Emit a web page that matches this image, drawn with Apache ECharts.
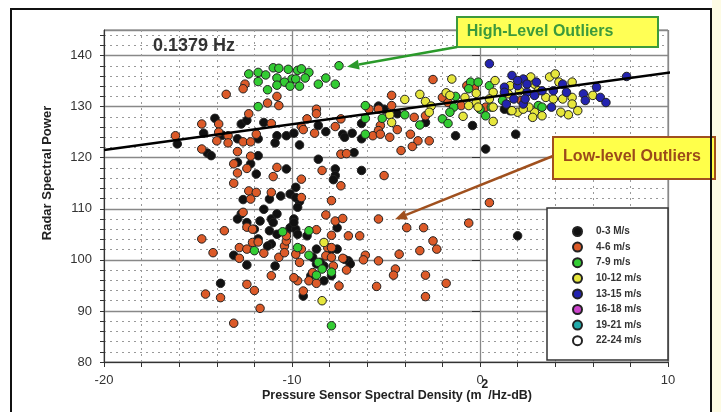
<!DOCTYPE html>
<html><head><meta charset="utf-8">
<script src="https://cdn.jsdelivr.net/npm/echarts@6.0.0/dist/echarts.min.js"></script>
<style>html,body{margin:0;padding:0;background:#fff}#c{width:721px;height:412px}</style>
</head><body><div id="c"></div>
<script>
const seriesNames = ['0-3 M/s','4-6 m/s','7-9 m/s','10-12 m/s','13-15 m/s','16-18 m/s','19-21 m/s','22-24 m/s'];
const seriesColors = ['#111111','#dc5a28','#33cc33','#e6e63c','#2323b0','#cc44cc','#22aaaa','#ffffff'];
const xLabelValues = [-20,-10,0,10];
const yLabelValues = [80,90,100,110,120,130,140];
const fitX = [-20, 11.3];
const fitY = [121.5, 137.3];

const ws0_3 = [[-14.1,127.7],[-12.7,126.6],[-12.4,127.3],[-11.5,126.9],[-14.7,124.8],[-16.1,122.7],[-13.7,124.4],[-12.9,123.7],[-11.8,123.7],[-10.8,124.3],[-10.3,124.3],[-10.9,122.9],[-14.5,120.9],[-14.3,120.4],[-11.8,120.4],[-12.9,119.1],[-11.9,116.8],[-12.2,118.8],[-10.3,117.8],[-12.6,111.8],[-11.2,111.9],[-10.6,112.5],[-10.1,112.9],
[-9.9,124.8],[-9.6,122.5],[-8.6,126.3],[-8.2,125.1],[-7.3,124.6],[-6.8,124.8],[-7.2,124.0],[-6.3,126.7],[-6.3,123.7],[-5.4,130.1],[-5.1,129.5],[-4.4,128.6],[-2.9,126.9],[-1.3,124.3],[-0.4,126.3],[-6.7,121.0],[-8.6,119.7],[-7.7,117.8],[-7.7,116.5],[-7.8,115.7],[-6.3,117.5],[-9.8,114.2],[-9.6,111.4],
[1.9,124.6],[0.3,121.7],[1.6,129.2],[1.3,129.5],[2.0,104.7],
[-11.5,109.9],[-12.7,109.0],[-12.9,108.0],[-12.4,107.3],[-11.7,107.6],[-11.1,108.0],[-10.8,109.0],[-11.0,107.3],[-11.2,105.7],[-10.8,105.0],[-10.3,105.4],[-11.8,104.1],[-11.1,103.1],[-11.3,102.7],[-13.1,100.9],[-12.4,99.0],[-10.9,98.8],[-13.8,95.4],[-10.1,106.3],[-12.0,106.0],
[-9.7,110.3],[-9.8,106.0],[-7.6,106.3],[-7.9,102.1],[-7.6,102.1],[-8.7,102.1],[-9.2,104.7],[-8.9,100.5],[-8.7,99.2],[-8.3,98.8],[-7.0,99.8],[-6.9,99.2],[-7.2,100.1],[-8.3,95.9],[-9.4,92.9],[-9.0,96.9],[-7.9,96.9],[-8.5,99.5],[-9.9,108.0],
[-9.8,112.2],[-9.9,107.3],[-9.7,105.0]];

const ws4_6 = [[-12.5,134.4],[-12.6,133.5],[-13.5,132.4],[-10.8,132.0],[-11.3,130.7],[-10.7,130.2],[-12.3,128.6],[-14.8,126.6],[-13.9,126.6],[-11.1,126.7],[-16.2,124.3],[-13.9,125.0],[-13.4,124.3],[-14.0,123.3],[-13.4,122.9],[-12.6,123.1],[-11.9,124.6],[-12.2,123.1],[-12.9,121.2],[-14.8,121.7],[-12.2,120.3],[-13.1,118.8],[-12.4,117.9],[-12.9,117.0],[-10.8,118.1],[-11.0,116.3],[-13.1,115.0],[-12.3,113.5],[-11.9,113.2],[-12.2,111.9],[-11.1,113.2],
[-8.7,129.5],[-8.7,128.6],[-9.2,127.6],[-9.5,126.1],[-9.4,125.5],[-8.8,124.8],[-7.7,126.1],[-7.4,127.6],[-4.7,132.2],[-2.5,135.3],[-2.0,131.8],[-1.7,130.8],[-1.0,130.2],[-0.7,134.1],[-0.3,133.6],[-5.4,129.5],[-4.7,130.2],[-5.3,126.3],[-5.4,125.3],[-5.7,124.3],[-5.3,124.6],[-4.8,124.0],[-4.4,125.5],[-3.7,124.6],[-3.3,123.3],[-2.7,123.3],[-3.6,122.2],[-4.2,121.4],[-7.4,120.7],[-7.1,120.8],[-8.4,117.5],[-9.5,115.8],[-7.4,114.5],[-7.9,111.6],[-5.1,116.5],[-9.5,112.2],[-2.9,128.2],[-3.5,127.9],[-5.9,129.5],
[-12.6,109.3],[-12.4,106.4],[-12.1,106.0],[-13.6,105.7],[-14.8,104.1],[-12.8,102.4],[-12.1,103.4],[-11.8,103.5],[-12.4,102.1],[-11.5,101.3],[-12.8,100.3],[-14.2,101.4],[-10.7,100.5],[-10.4,102.7],[-10.4,101.4],[-10.3,103.7],[-10.3,104.7],[-11.1,96.9],[-12.4,95.2],[-12.0,94.0],[-14.6,93.3],[-13.8,92.6],[-11.7,90.5],[-13.1,87.6],
[-8.2,108.8],[-7.7,107.6],[-7.3,108.1],[-8.7,105.9],[-7.0,104.7],[-6.4,104.7],[-7.9,104.8],[-9.5,102.1],[-9.8,101.1],[-8.1,102.4],[-7.9,102.4],[-8.2,100.8],[-7.3,100.3],[-7.9,100.5],[-7.8,98.8],[-9.6,99.5],[-9.7,95.9],[-9.1,95.9],[-8.7,95.4],[-9.4,93.9],[-7.5,94.9],[-7.1,98.0],[-6.1,100.9],[-6.2,100.0],[-5.4,99.8],[-5.4,108.0],[-3.9,106.3],[-3.0,106.3],[-4.3,101.1],[-3.2,101.8],[-2.5,103.7],[-2.3,102.1],[-4.5,98.2],[-4.6,97.0],[-2.9,97.0],[-1.8,95.4],[-5.5,94.8],[-2.9,92.8],[-0.6,107.2],[-8.9,97.5],[-9.9,96.5],
[0.3,129.9],[2.2,131.2],[0.5,111.2]];

const ws7_9 = [[-12.3,136.4],[-11.8,136.7],[-11.4,136.2],[-11.0,137.6],[-10.7,137.5],[-10.2,137.3],[-10.0,135.4],[-10.8,135.6],[-10.4,134.8],[-10.8,134.2],[-10.1,134.0],[-11.8,134.9],[-11.3,133.3],[-11.8,130.0],
[-9.7,137.1],[-9.5,137.4],[-9.1,136.7],[-9.8,135.4],[-9.3,135.6],[-9.6,134.0],[-8.6,134.4],[-8.2,135.6],[-7.7,134.4],[-7.5,138.0],[-6.1,130.2],[-6.1,127.7],[-5.2,127.7],[-6.1,124.6],[-4.0,128.4],[-3.2,126.4],[-2.0,127.6],[-1.7,126.7],[-1.4,129.9],[-1.3,132.0],[-0.5,134.8],[-0.1,134.8],[-0.6,133.5],[0.0,129.5],[-1.6,128.9],
[0.5,134.1],[0.3,128.2],[0.6,129.9],[3.1,130.2],[3.3,129.9],[1.2,131.2],
[-12.0,101.8],[-10.5,105.5],
[-9.1,105.7],[-9.7,102.4],[-9.1,100.9],[-8.6,99.5],[-8.4,98.2],[-8.7,97.0],[-7.9,97.6],[-7.9,87.1]];

const ws10_12 = [[-1.5,135.4],[-4.0,131.4],[-3.2,132.4],[-2.9,131.0],[-2.6,130.1],[-1.8,132.7],[-1.6,132.2],[-4.8,128.4],[-4.7,126.9],[-2.7,128.9],[-0.9,128.1],[-0.8,131.8],[-0.2,132.6],[-0.2,130.8],[-0.1,129.9],[-0.6,130.2],
[0.8,135.1],[0.7,132.8],[0.5,131.5],[0.7,129.9],[1.5,132.5],[2.1,133.1],[2.7,135.8],[2.9,134.4],[3.1,133.1],[3.7,135.8],[4.0,136.4],[4.2,134.8],[3.5,131.8],[3.9,131.5],[4.4,131.5],[4.9,134.8],[4.9,131.8],[4.9,130.5],[5.2,129.2],[4.7,128.4],[4.3,128.9],[2.9,128.9],[3.3,128.2],[2.8,127.9],[2.0,128.9],[1.7,129.2],[0.7,127.1],[6.0,132.2],[1.6,134.1],[2.6,129.9],[2.3,129.5],
[-8.3,103.4],[-8.4,92.0]];

const ws13_15 = [[0.5,138.4],[1.7,136.1],[2.3,135.4],[2.5,134.4],[2.0,134.1],[3.0,134.8],[3.3,133.1],[2.5,132.8],[2.9,132.2],[1.8,131.5],[2.3,130.5],[1.3,133.8],[1.4,130.5],[3.8,129.9],[3.9,133.1],[4.6,132.8],[4.4,134.4],[5.5,132.5],[6.2,133.8],[5.6,131.2],[6.4,131.8],[6.7,130.8],[7.8,135.9],[2.0,135.1],[1.3,132.8],[2.4,131.5]];
const ws16_18 = [];
const ws19_21 = [];
const ws22_24 = [];

const allData = [ws0_3, ws4_6, ws7_9, ws10_12, ws13_15, ws16_18, ws19_21, ws22_24];
const FONT = '"Liberation Sans", Arial, sans-serif';

function arrow(x1, y1, x2, y2, color, z) {
  const dx = x2 - x1, dy = y2 - y1, L = Math.hypot(dx, dy);
  const ux = dx / L, uy = dy / L, hl = 12, hw = 5;
  const bx = x2 - ux * hl, by = y2 - uy * hl;
  return [
    {type:'line', z:z, shape:{x1:x1, y1:y1, x2:bx, y2:by}, style:{stroke:color, lineWidth:2.5}},
    {type:'polygon', z:z, shape:{points:[[x2,y2],[bx - uy*hw, by + ux*hw],[bx + uy*hw, by - ux*hw]]}, style:{fill:color}}
  ];
}

const series = allData.map((d, i) => ({
  type:'scatter', name: seriesNames[i], data: d, symbol:'circle', symbolSize: 8.5,
  itemStyle:{color: seriesColors[i], borderColor:'#222', borderWidth:1, opacity:1},
  z: 2, silent: true
}));
series.push({
  type:'line', name:'fit', data: fitX.map((x, i) => [x, fitY[i]]), symbol:'none', showSymbol:false,
  lineStyle:{color:'#000', width:2.5}, clip:false, z:5, silent:true
});

const option = {
  animation:false,
  backgroundColor:'#ffffff',
  grid:{left:104, right:53, top:30, bottom:50, show:true, borderColor:'#777', borderWidth:1, containLabel:false, outerBoundsMode:'none'},
  xAxis:[
    {type:'value', min:-20, max:10, interval:2,
     axisLine:{onZero:false, lineStyle:{color:'#333', width:1}},
     axisTick:{length:5, lineStyle:{color:'#333'}},
     axisLabel:{formatter: v => xLabelValues.includes(v) ? String(v) : '', color:'#333', fontSize:13, margin:12, fontFamily:FONT, showMaxLabel:true, showMinLabel:true, hideOverlap:false},
     splitLine:{show:true, lineStyle:{color:'#999', type:[2,4], width:1}},
     name:'{t|Pressure Sensor Spectral Density (m}{s|2}{t|/Hz-dB)}', nameLocation:'middle', nameGap:17, nameMoveOverlap:false,
     nameTextStyle:{padding:[0,0,0,22], rich:{
       t:{fontSize:12.5, fontWeight:'bold', color:'#222', fontFamily:FONT, lineHeight:23, verticalAlign:'bottom'},
       s:{fontSize:12, fontWeight:'bold', color:'#222', fontFamily:FONT, lineHeight:12, verticalAlign:'top'}}}
    },
    {type:'value', min:-20, max:10, interval:10, position:'bottom',
     axisLine:{show:false}, axisTick:{show:false}, axisLabel:{show:false},
     splitLine:{show:true, lineStyle:{color:'#888', width:1.3, type:'solid'}}}
  ],
  yAxis:[
    {type:'value', min:80, max:145, interval:2,
     axisLine:{show:true, onZero:false, lineStyle:{color:'#333', width:1}},
     axisTick:{show:true, length:4, lineStyle:{color:'#333'}},
     axisLabel:{formatter: v => yLabelValues.includes(v) ? String(v) : '', color:'#333', fontSize:13, margin:12, fontFamily:FONT, showMaxLabel:false, hideOverlap:false},
     splitLine:{show:true, lineStyle:{color:'#999', type:[2,4], width:1}},
     name:'Radar Spectral Power', nameLocation:'middle', nameGap:50, nameMoveOverlap:false,
     nameTextStyle:{fontSize:13, fontWeight:'bold', color:'#222', fontFamily:FONT, padding:[0,0,0,46]}
    },
    {type:'value', min:80, max:145, interval:10, position:'left',
     axisLine:{show:false}, axisTick:{show:true, length:8, lineStyle:{color:'#333'}}, axisLabel:{show:false},
     splitLine:{show:true, lineStyle:{color:'#888', width:1.3, type:'solid'}}}
  ],
  legend:{
    data: seriesNames, orient:'vertical', left:572, top:226, padding:0, itemWidth:9, itemHeight:9, itemGap:4.6,
    selectedMode:false, icon:'circle',
    textStyle:{fontSize:10, fontWeight:'bold', color:'#333', fontFamily:FONT, lineHeight:10, padding:[0,0,0,9]}
  },
  series: series,
  graphic:{elements:[
    {type:'rect', z:-1, shape:{x:712, y:0, width:9, height:412}, style:{fill:'#fdfbe4'}},
    {type:'rect', z:20, shape:{x:11, y:9, width:700, height:410}, style:{fill:null, stroke:'#111', lineWidth:2}},
    {type:'rect', z:3, shape:{x:547, y:208, width:121, height:152}, style:{fill:'#fff', stroke:'#333', lineWidth:1.5}},
    {type:'text', z:10, style:{text:'0.1379 Hz', x:153, y:46, font:'bold 18px ' + FONT, fill:'#333', verticalAlign:'middle', align:'left'}},
    {type:'rect', z:10, shape:{x:457, y:17, width:201, height:30}, style:{fill:'#ffff55', stroke:'#3c9a3c', lineWidth:2}},
    {type:'text', z:11, style:{text:'High-Level Outliers', x:540, y:32, font:'bold 16px ' + FONT, fill:'#3c9a3c', verticalAlign:'middle', align:'center'}},
    {type:'rect', z:10, shape:{x:553, y:137, width:162, height:42}, style:{fill:'#ffff4a', stroke:'#a0501e', lineWidth:2}},
    {type:'text', z:11, style:{text:'Low-level Outliers', x:632, y:157, font:'bold 16px ' + FONT, fill:'#9b4a1a', verticalAlign:'middle', align:'center'}},
    ...arrow(457, 47, 347, 66.7, '#2a9a2a', 10),
    ...arrow(553, 156, 395, 219.3, '#a0501e', 10)
  ]}
};
const chart = echarts.init(document.getElementById('c'), null, {renderer:'canvas'});
chart.setOption(option);
</script></body></html>
